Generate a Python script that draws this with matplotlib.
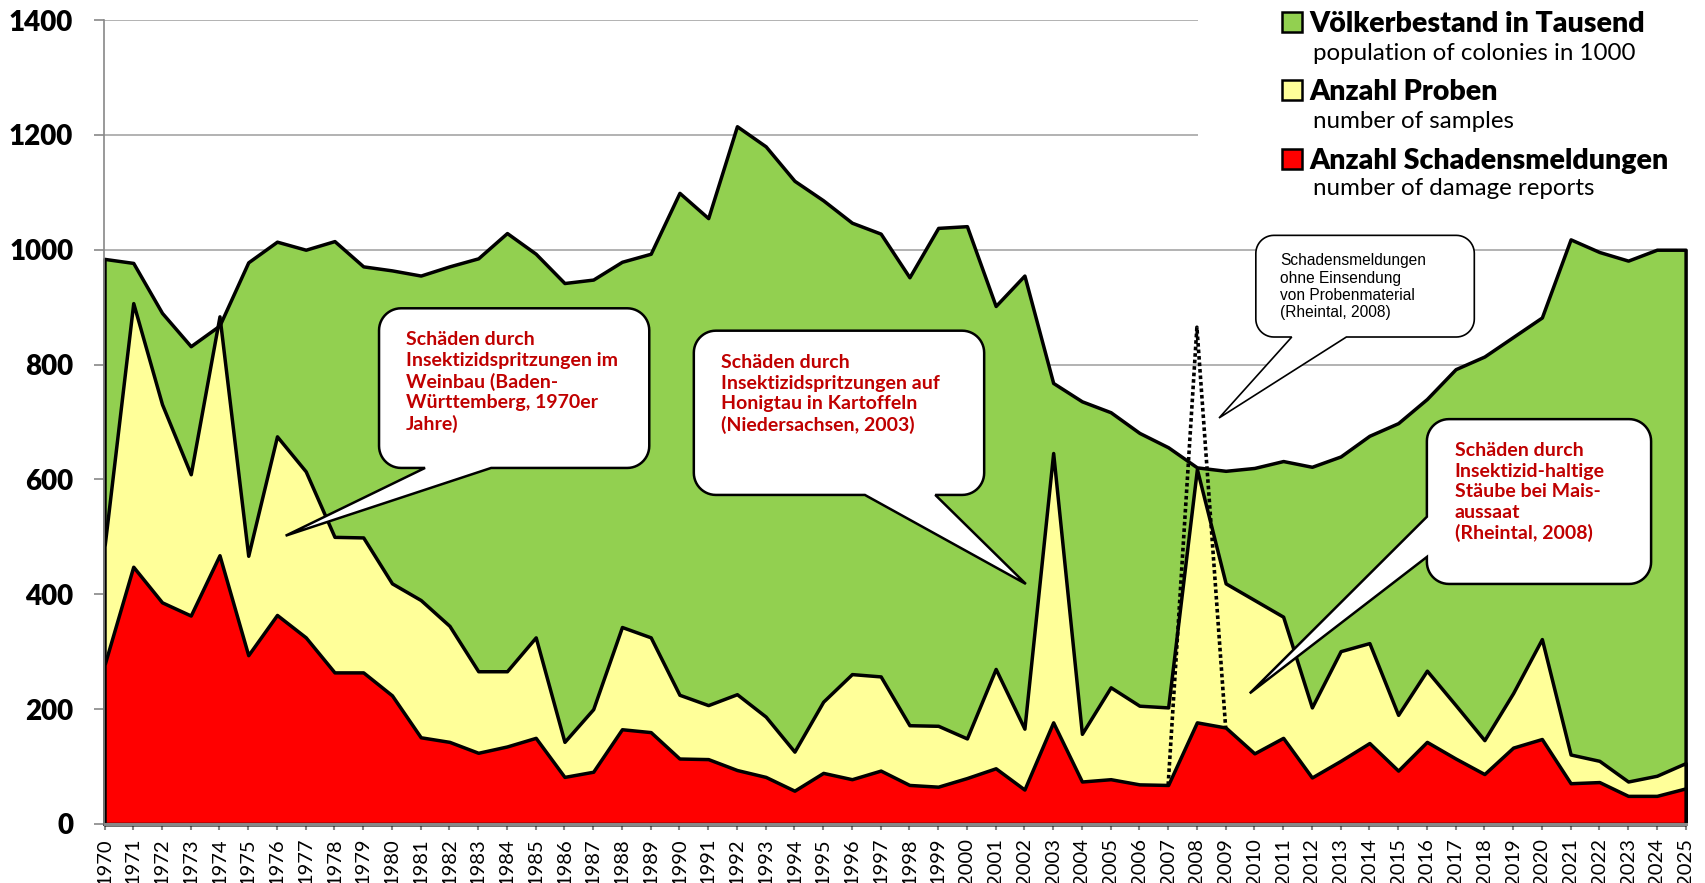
import matplotlib
matplotlib.use("Agg")
import matplotlib.pyplot as plt
import numpy as np
from matplotlib.patches import Polygon, Rectangle

# ---- data ----
jahre = list(range(1970, 2026))

# Völkerbestand in Tausend / population of colonies in 1000
voelker = [984, 977, 890, 832, 868, 978, 1014, 1000, 1015, 971,
           964, 955, 971, 985, 1029, 993, 942, 948, 979, 993,
           1099, 1055, 1215, 1180, 1120, 1086, 1047, 1028, 952, 1038,
           1041, 902, 955, 768, 736, 717, 681, 656, 621, 615,
           620, 632, 622, 640, 676, 698, 740, 792, 814, 848,
           882, 1018, 996, 981, 1000, 1000]

# Anzahl Proben / number of samples
proben = [483, 907, 731, 609, 884, 467, 675, 614, 500, 499,
          419, 390, 345, 266, 266, 325, 143, 200, 343, 325,
          225, 207, 226, 187, 126, 213, 261, 257, 172, 171,
          149, 270, 166, 646, 157, 238, 206, 203, 618, 419,
          390, 361, 203, 301, 315, 190, 267, 207, 146, 228,
          322, 121, 110, 74, 84, 106]

# Anzahl Schadensmeldungen / number of damage reports
meldungen = [277, 448, 386, 363, 468, 294, 364, 325, 264, 264,
             224, 151, 143, 124, 135, 150, 82, 91, 165, 160,
             114, 113, 94, 82, 58, 89, 78, 93, 68, 65,
             80, 97, 60, 177, 74, 78, 69, 68, 177, 168,
             123, 150, 81, 110, 141, 93, 143, 114, 87, 133,
             148, 71, 73, 49, 49, 62]

# damage reports incl. those without samples (Rheintal 2008), dotted
ohne_proben_jahre = [2007, 2008, 2009]
ohne_proben = [68, 865, 168]

GREEN = "#92D050"
YELLOW = "#FFFF99"
RED = "#FF0000"
DARKRED = "#C00000"
FONT = "Lato"

W, H = 1706, 883
fig = plt.figure(figsize=(W / 100, H / 100), dpi=100)
ax = fig.add_axes([104.5 / W, 1 - 824 / H, (1685.6 - 104.5) / W, (824 - 20) / H])
ax.set_xlim(1970, 2025)
ax.set_ylim(0, 1400)

ax.set_yticks(range(0, 1401, 200))
ax.yaxis.grid(True, color="#A6A6A6", lw=1.2)
ax.set_axisbelow(True)

# white block behind the legend hides the upper gridlines
ax.add_patch(Rectangle((1198 / W, 1 - 215 / H), 1, 215 / H, transform=fig.transFigure,
                       facecolor="white", edgecolor="none", zorder=1))

for vals, col in [(voelker, GREEN), (proben, YELLOW), (meldungen, RED)]:
    ax.fill_between(jahre, 0, vals, facecolor=col, edgecolor="black", lw=2.5,
                    joinstyle="round", zorder=2, clip_on=False)

ax.plot(ohne_proben_jahre, ohne_proben, ls=(0, (1, 0.8)), color="black", lw=2.6, zorder=3)

for s in ["top", "right"]:
    ax.spines[s].set_visible(False)
ax.spines["left"].set_color("#888888")
ax.spines["left"].set_linewidth(1.2)
ax.spines["bottom"].set_color("#888888")
ax.spines["bottom"].set_linewidth(2.2)

ax.set_xticks(jahre)
ax.set_xticklabels([str(j) for j in jahre], rotation=90, fontsize=14.5, family=FONT)
ax.tick_params(axis="x", length=4, width=1.5, color="#888888", pad=6)
ax.tick_params(axis="y", length=7, width=1.2, color="#888888", pad=15.5)
for lab in ax.get_yticklabels():
    lab.set_fontsize(20)
    lab.set_fontweight("heavy")
    lab.set_family(FONT)

# ---- callouts ----
px_x = ax.bbox.width / 55.0
px_y = ax.bbox.height / 1400.0


def callout(x0, x1, y0, y1, edge, a, b, tip, r=22, lw=1.8):
    rx, ry = r / px_x, r / px_y

    def arc(cx, cy, t0, t1):
        t = np.radians(np.linspace(t0, t1, 14))
        return list(zip(cx + rx * np.cos(t), cy + ry * np.sin(t)))

    pts = arc(x0 + rx, y0 + ry, 180, 270)
    if edge == "bottom":
        pts += [(a, y0), tip, (b, y0)]
    pts += arc(x1 - rx, y0 + ry, 270, 360)
    pts += arc(x1 - rx, y1 - ry, 0, 90)
    pts += arc(x0 + rx, y1 - ry, 90, 180)
    if edge == "left":
        pts += [(x0, a), tip, (x0, b)]
    ax.add_patch(Polygon(pts, closed=True, facecolor="white", edgecolor="black",
                         lw=lw, zorder=6, joinstyle="miter"))


callout(1979.55, 1988.95, 620, 898, "bottom", 1981.15, 1983.45, (1976.3, 502))
ax.text(1980.48, 858, "Schäden durch\nInsektizidspritzungen im\nWeinbau (Baden-\nWürttemberg, 1970er\nJahre)",
        color=DARKRED, fontsize=14, fontweight="bold", family=FONT, va="top", ha="left",
        linespacing=1.25, zorder=7)

callout(1990.5, 2000.6, 573, 859, "bottom", 1996.45, 1998.9, (2002.05, 418))
ax.text(1991.46, 818, "Schäden durch\nInsektizidspritzungen auf\nHonigtau in Kartoffeln\n(Niedersachsen, 2003)",
        color=DARKRED, fontsize=14, fontweight="bold", family=FONT, va="top", ha="left",
        linespacing=1.25, zorder=7)

callout(2010.05, 2017.65, 848, 1025, "bottom", 2011.3, 2013.2, (2008.77, 707), r=18, lw=1.2)
ax.text(2010.9, 994, "Schadensmeldungen\nohne Einsendung\nvon Probenmaterial\n(Rheintal, 2008)",
        color="black", fontsize=11.2, family="Liberation Sans", va="top", ha="left",
        linespacing=1.2, zorder=7)

callout(2016.0, 2023.8, 418, 705, "left", 535, 465, (2009.84, 227.6))
ax.text(2016.97, 665, "Schäden durch\nInsektizid-haltige\nStäube bei Mais-\naussaat\n(Rheintal, 2008)",
        color=DARKRED, fontsize=14, fontweight="bold", family=FONT, va="top", ha="left",
        linespacing=1.25, zorder=7)

# ---- legend (manual, two lines per entry) ----
legend = [(GREEN, "Völkerbestand in Tausend", "population of colonies in 1000", 31.7, 60),
          (YELLOW, "Anzahl Proben", "number of samples", 100, 128),
          (RED, "Anzahl Schadensmeldungen", "number of damage reports", 168.5, 195)]
for col, de, en, yb, ye in legend:
    fig.patches.append(Rectangle((1282 / W, 1 - yb / H), 20 / W, 20 / H, transform=fig.transFigure,
                                 facecolor=col, edgecolor="black", lw=1.8, figure=fig))
    fig.text(1309.6 / W, 1 - yb / H, de, fontsize=20.5, fontweight="heavy", family=FONT,
             va="baseline", ha="left")
    fig.text(1313 / W, 1 - ye / H, en, fontsize=17.4, family=FONT, va="baseline", ha="left")

fig.savefig("out.png", dpi=100)
